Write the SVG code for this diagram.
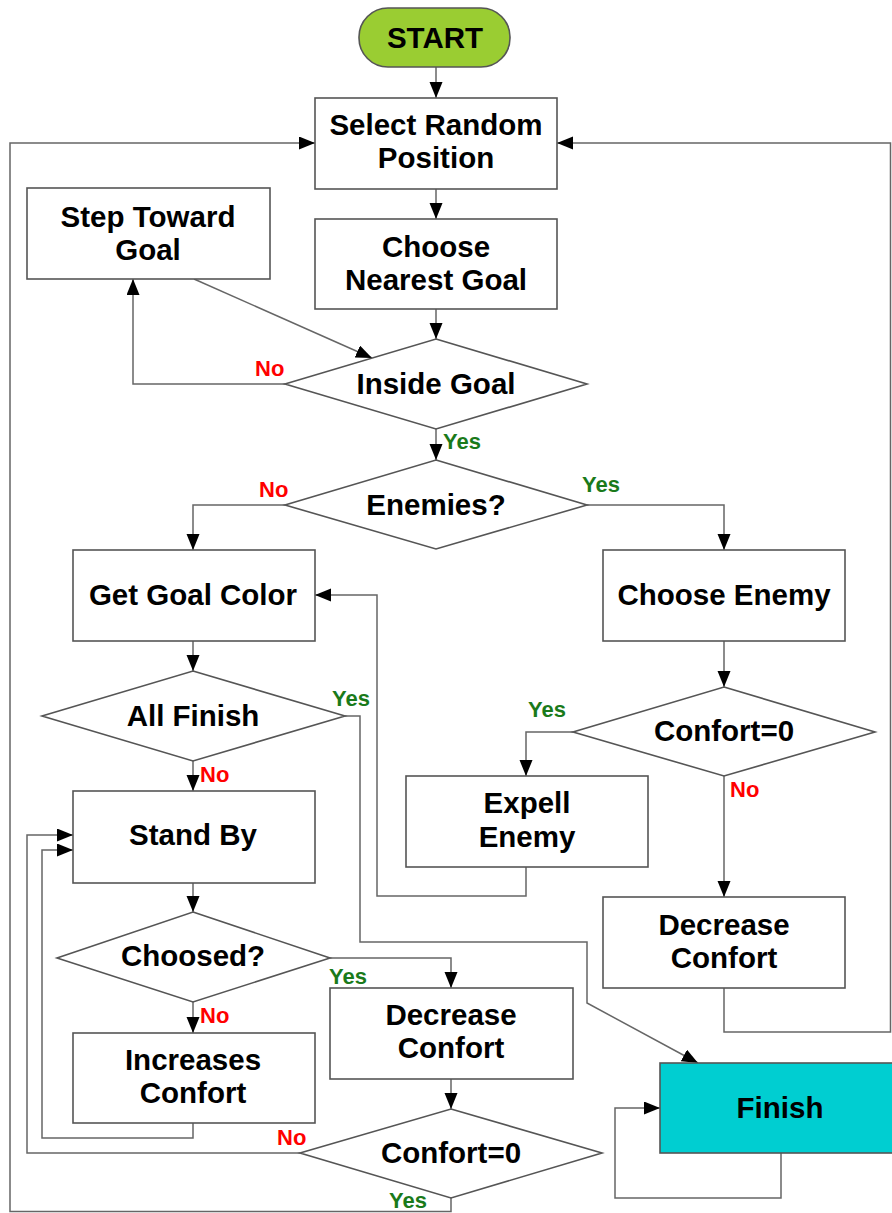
<svg xmlns="http://www.w3.org/2000/svg" width="892" height="1213" viewBox="0 0 892 1213">
<defs>
<marker id="ah" markerUnits="userSpaceOnUse" markerWidth="17" markerHeight="14" refX="16" refY="6.5" orient="auto">
<path d="M0,0 L16,6.5 L0,13 z" fill="#000"/>
</marker>
<style>
.box{fill:#fff;stroke:#555;stroke-width:1.6}
.t{font-family:"Liberation Sans",Arial,sans-serif;font-weight:bold;font-size:29.5px;fill:#000;text-anchor:middle}
.lb{font-family:"Liberation Sans",Arial,sans-serif;font-weight:bold;font-size:22px}
.yes{fill:#1a7a1a}
.no{fill:#ff0000}
.c{fill:none;stroke:#666;stroke-width:1.5}
.ca{fill:none;stroke:#666;stroke-width:1.5;marker-end:url(#ah)}
</style>
</defs>
<rect width="892" height="1213" fill="#fff"/>

<g id="connectors">
<path class="ca" d="M436,67 V98"/>
<path class="ca" d="M436,189 V219"/>
<path class="ca" d="M436,309 V339"/>
<path class="ca" d="M285,384 H133 V279"/>
<path class="ca" d="M194,279 L372,358"/>
<path class="ca" d="M436,429 V460"/>
<path class="ca" d="M285,505 H193 V550"/>
<path class="ca" d="M587,505 H724 V550"/>
<path class="ca" d="M193,641 V671"/>
<path class="ca" d="M193,761 V791"/>
<path class="ca" d="M345,716 H360 V942 H587 V1003 L698,1063"/>
<path class="ca" d="M724,641 V687"/>
<path class="ca" d="M573,732 H526 V776"/>
<path class="ca" d="M526,867 V896 H377 V595 H315"/>
<path class="ca" d="M724,776 V897"/>
<path class="ca" d="M724,988 V1032 H890.5 V143 H557"/>
<path class="ca" d="M193,883 V912"/>
<path class="ca" d="M330,958 H451 V988"/>
<path class="ca" d="M193,1002 V1033"/>
<path class="ca" d="M193,1123 V1138 H42 V850 H73"/>
<path class="ca" d="M451,1079 V1109"/>
<path class="ca" d="M300,1153 H27 V835 H73"/>
<path class="ca" d="M451,1198 V1211.5 H10 V143 H315"/>
<path class="ca" d="M781,1153 V1198 H615 V1108 H660"/>
</g>

<g id="start">
<rect x="359" y="8" width="151" height="59" rx="29" ry="29" fill="#9acd32" stroke="#555" stroke-width="1.6"/>
<text class="t" x="435" y="48">START</text>
</g>
<g id="select">
<rect class="box" x="315" y="98" width="242" height="91"/>
<text class="t" x="436" y="135">Select Random</text>
<text class="t" x="436" y="168">Position</text>
</g>
<g id="step">
<rect class="box" x="27" y="188" width="243" height="91"/>
<text class="t" x="148" y="227">Step Toward</text>
<text class="t" x="148" y="260">Goal</text>
</g>
<g id="choose">
<rect class="box" x="315" y="219" width="242" height="90"/>
<text class="t" x="436" y="257">Choose</text>
<text class="t" x="436" y="290">Nearest Goal</text>
</g>
<g id="inside">
<polygon class="box" points="436,339 587,384 436,429 285,384"/>
<text class="t" x="436" y="394">Inside Goal</text>
<text class="lb no" x="255" y="376">No</text>
<text class="lb yes" x="443" y="449">Yes</text>
</g>
<g id="enemies">
<polygon class="box" points="436,460 587,505 436,549 285,505"/>
<text class="t" x="436" y="515">Enemies?</text>
<text class="lb no" x="259" y="497">No</text>
<text class="lb yes" x="582" y="492">Yes</text>
</g>
<g id="getgoal">
<rect class="box" x="73" y="550" width="242" height="91"/>
<text class="t" x="193" y="605">Get Goal Color</text>
</g>
<g id="chooseenemy">
<rect class="box" x="603" y="550" width="242" height="91"/>
<text class="t" x="724" y="605">Choose Enemy</text>
</g>
<g id="allfinish">
<polygon class="box" points="193,671 345,716 193,761 42,716"/>
<text class="t" x="193" y="726">All Finish</text>
<text class="lb yes" x="332" y="706">Yes</text>
<text class="lb no" x="200" y="782">No</text>
</g>
<g id="confort1">
<polygon class="box" points="724,687 875,732 724,776 573,732"/>
<text class="t" x="724" y="741">Confort=0</text>
<text class="lb yes" x="528" y="717">Yes</text>
<text class="lb no" x="730" y="797">No</text>
</g>
<g id="expell">
<rect class="box" x="406" y="776" width="242" height="91"/>
<text class="t" x="527" y="813">Expell</text>
<text class="t" x="527" y="847">Enemy</text>
</g>
<g id="standby">
<rect class="box" x="73" y="791" width="242" height="92"/>
<text class="t" x="193" y="845">Stand By</text>
</g>
<g id="decrease1">
<rect class="box" x="603" y="897" width="242" height="91"/>
<text class="t" x="724" y="935">Decrease</text>
<text class="t" x="724" y="968">Confort</text>
</g>
<g id="choosed">
<polygon class="box" points="193,912 330,958 193,1002 57,958"/>
<text class="t" x="193" y="966">Choosed?</text>
<text class="lb yes" x="329" y="984">Yes</text>
<text class="lb no" x="200" y="1023">No</text>
</g>
<g id="decrease2">
<rect class="box" x="330" y="988" width="243" height="91"/>
<text class="t" x="451" y="1025">Decrease</text>
<text class="t" x="451" y="1058">Confort</text>
</g>
<g id="increases">
<rect class="box" x="73" y="1033" width="242" height="90"/>
<text class="t" x="193" y="1070">Increases</text>
<text class="t" x="193" y="1103">Confort</text>
</g>
<g id="confort2">
<polygon class="box" points="451,1109 602,1153 451,1198 300,1153"/>
<text class="t" x="451" y="1163">Confort=0</text>
<text class="lb no" x="277" y="1145">No</text>
<text class="lb yes" x="389" y="1208">Yes</text>
</g>
<g id="finish">
<rect x="660" y="1063" width="234" height="90" fill="#00ced1" stroke="#555" stroke-width="1.6"/>
<text class="t" x="780" y="1118">Finish</text>
</g>
</svg>
